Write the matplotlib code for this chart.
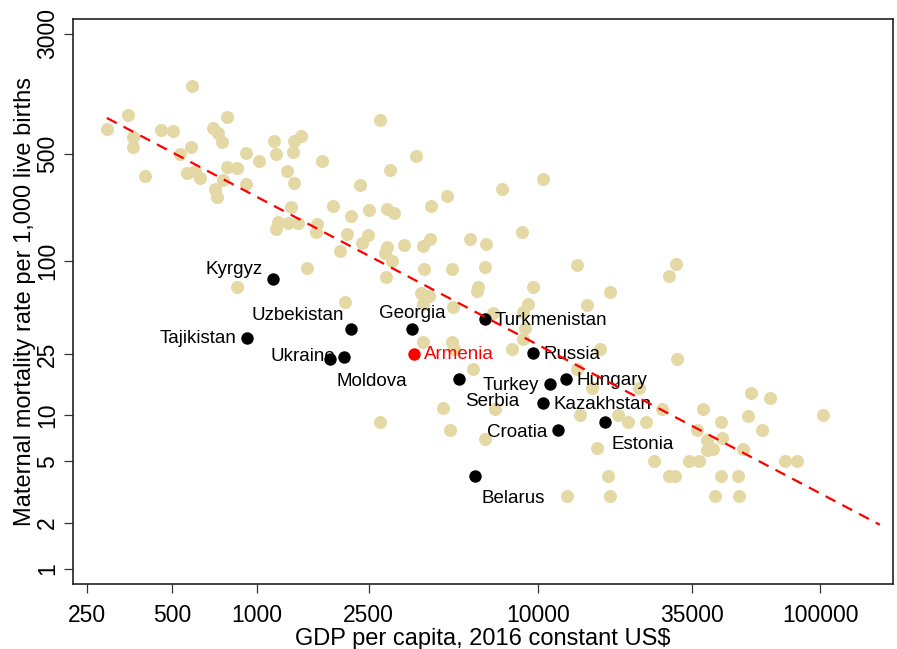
import matplotlib.pyplot as plt

plt.rcParams["font.family"] = ["Liberation Sans", "DejaVu Sans"]

# GDP per capita (2016 constant US$) and maternal mortality for all other countries
gdp_other = [
    294, 350, 364, 364, 402, 458, 505, 590, 585, 535,
    566, 605, 630, 700, 730, 754, 785, 712, 724, 760,
    785, 852, 917, 917, 1020, 1153, 1172, 1282, 1358, 1358,
    1438, 1347, 1707, 2742, 3680, 2976, 2328, 1325, 1191, 1293,
    1403, 1172, 1639, 1626, 1868, 2163, 2506, 2904, 3075, 4160,
    2094, 2486, 2367, 1977, 2904, 2857, 3025, 3337, 3897, 4129,
    3929, 2880, 3834, 4093, 3897, 1510, 852, 2060, 4742, 7430,
    10390, 5725, 6520, 8750, 4940, 6470, 13720, 6110, 6060, 9580,
    17980, 4980, 9190, 14890, 6905, 8830, 8970, 8070, 8830, 3897,
    4940, 5020, 5865, 16560, 13720, 4590, 4860, 6470, 7020, 2742,
    14060, 15520, 16150, 17680, 17980, 12650, 19190, 20820, 24110, 22780,
    25760, 29110, 30560, 30830, 29110, 31080, 34280, 37200, 27490, 38440,
    44530, 36600, 39700, 44900, 39700, 41690, 53300, 55540, 56900, 66460,
    62250, 102500, 44530, 51170, 42390, 51590, 75120, 82870,
]
mmr_other = [
    723, 891, 641, 552, 358, 712, 702, 1375, 552, 498,
    374, 386, 347, 734, 681, 595, 865, 295, 262, 337,
    410, 403, 505, 318, 448, 604, 498, 386, 322, 604,
    651, 513, 448, 827, 483, 392, 313, 225, 180, 177,
    177, 162, 175, 155, 229, 197, 215, 219, 206, 229,
    150, 148, 131, 117, 124, 113, 100, 128, 126, 140,
    89, 79, 62, 59, 53, 90, 68, 54, 266, 295,
    342, 140, 130, 155, 89, 92, 95, 68, 64, 68,
    63, 50, 53, 52, 46, 47, 37, 27, 31, 30,
    30, 27, 20, 27, 20, 11.1, 8.0, 7.0, 11.0, 9.0,
    10.0, 15.0, 6.1, 4.0, 3.0, 3.0, 10.0, 9.0, 9.0, 15.0,
    5.0, 4.0, 4.0, 96, 80, 23.2, 5.0, 5.0, 11.0, 11.0,
    9.0, 8.0, 6.9, 7.1, 5.95, 6.0, 6.0, 9.9, 14, 12.9,
    8.0, 10.0, 4.0, 4.0, 3.0, 3.0, 5.0, 5.0,
]

# post-Soviet / regional comparison countries
countries = [
    "Kyrgyz", "Tajikistan", "Uzbekistan", "Ukraine", "Moldova", "Georgia",
    "Armenia", "Turkmenistan", "Russia", "Serbia", "Turkey", "Hungary",
    "Kazakhstan", "Croatia", "Estonia", "Belarus",
]
country_gdp = [1144, 925, 2163, 2043, 1823, 3562, 3621, 6470, 9580, 5231,
               11010, 12540, 10390, 11750, 17250, 5963]
country_mmr = [77, 31.8, 36.3, 23.9, 23.2, 36.3, 25.0, 42.2, 25.4, 17.2,
               16.0, 17.2, 12.0, 8.0, 9.0, 4.0]
highlight = "Armenia"

# fitted log-log regression line (end points)
fit_gdp = [294, 163000]
fit_mmr = [852, 1.94]

x_ticks = [250, 500, 1000, 2500, 10000, 35000, 100000]
y_ticks = [1, 2, 5, 10, 25, 100, 500, 3000]

# label offsets in pixels (dx, dy) and alignment
label_pos = {
    "Kyrgyz": (-10, 9, "right"),
    "Tajikistan": (-11, -1, "right"),
    "Uzbekistan": (-7, 13, "right"),
    "Ukraine": (-9, 0, "right"),
    "Moldova": (6, -23, "left"),
    "Georgia": (0, 15, "center"),
    "Armenia": (10, -1, "left"),
    "Turkmenistan": (10, -2, "left"),
    "Russia": (10, -2, "left"),
    "Serbia": (6, -23, "left"),
    "Turkey": (-11, -2, "right"),
    "Hungary": (10, -2, "left"),
    "Kazakhstan": (10, -2, "left"),
    "Croatia": (-11, -2, "right"),
    "Estonia": (6, -22, "left"),
    "Belarus": (6, -22, "left"),
}

fig = plt.figure(figsize=(8.97, 6.49), dpi=100)
ax = fig.add_axes([0.0814, 0.1002, 0.9141, 0.8705])
ax.set_xscale("log")
ax.set_yscale("log")

ax.scatter(gdp_other, mmr_other, s=88, color="#E4D8A4", linewidths=0, zorder=2)

for name, gx, my in zip(countries, country_gdp, country_mmr):
    col = "#FF0000" if name == highlight else "black"
    ax.scatter([gx], [my], s=80, color=col, linewidths=0, zorder=4)
    dx, dy, ha = label_pos[name]
    ax.annotate(name, (gx, my), xytext=(dx * 0.72, dy * 0.72),
                textcoords="offset points", ha=ha, va="center",
                fontsize=13.5, color=col, zorder=3)

ax.plot(fit_gdp, fit_mmr, color="#FF0000", lw=1.6, dashes=(5, 3.5), zorder=5)

ax.set_xlim(223, 181500)
ax.set_ylim(0.80, 3740)
ax.minorticks_off()
ax.set_xticks(x_ticks)
ax.set_xticklabels([str(t) for t in x_ticks])
ax.set_yticks(y_ticks)
ax.set_yticklabels([str(t) for t in y_ticks], rotation=90, va="center")

ax.tick_params(axis="x", direction="out", length=6.5, width=0.9,
               labelsize=16.5, pad=8, color="#333333")
ax.tick_params(axis="y", direction="out", length=6.5, width=0.9,
               labelsize=16.5, pad=3.5, color="#333333")
for sp in ax.spines.values():
    sp.set_linewidth(1.2)
    sp.set_color("#222222")

ax.set_xlabel("GDP per capita, 2016 constant US\\$", fontsize=17, labelpad=1)
ax.set_ylabel("Maternal mortality rate per 1,000 live births", fontsize=17, labelpad=0)

fig.savefig("out.png", dpi=100)
